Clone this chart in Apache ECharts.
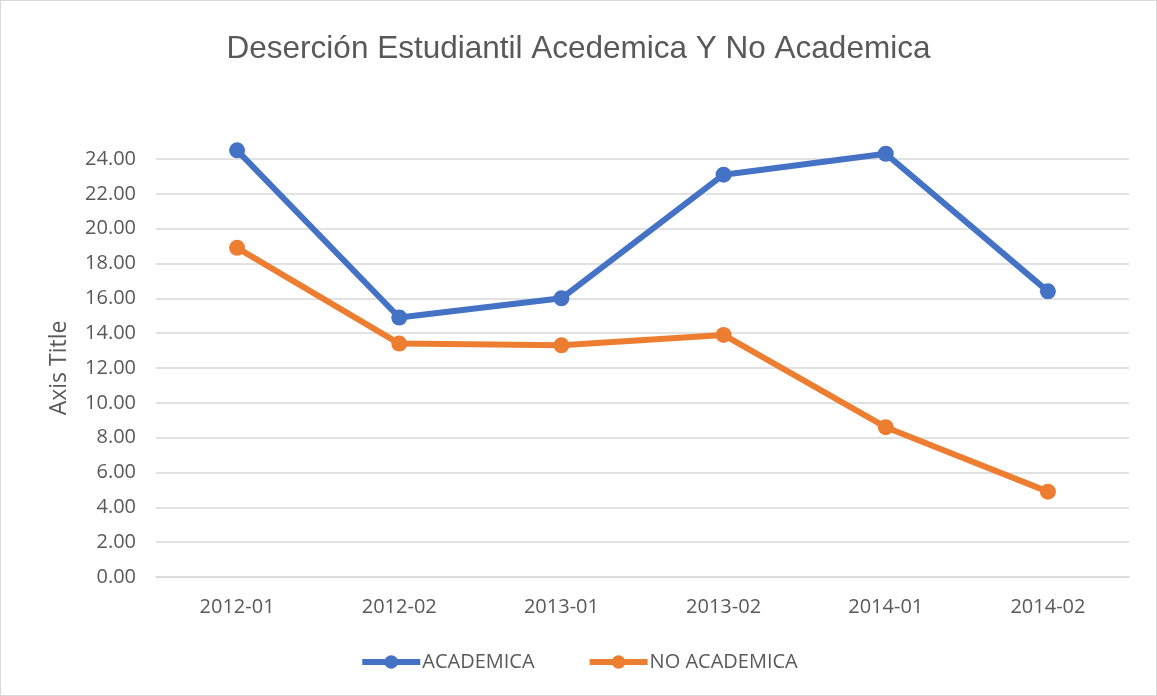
<!DOCTYPE html>
<html>
  <head>
    <meta charset="UTF-8">
    <title>Desercion</title>
    <script src="https://cdn.jsdelivr.net/npm/echarts@6/dist/echarts.min.js"></script>
    <style>
      html, body { margin: 0; padding: 0; background: #fff; }
      #myChart { width: 1155px; height: 694px; border: 1px solid #d9d9d9; }
    </style>
  </head>
  <body>
    <div id="myChart"></div>
    <script type="text/javascript">
    var periods = ['2012-01', '2012-02', '2013-01', '2013-02', '2014-01', '2014-02'];
    var academica = [24.5, 14.9, 16.0, 23.1, 24.3, 16.4];
    var noAcademica = [18.9, 13.4, 13.3, 13.9, 8.6, 4.9];

    var myChart = echarts.init(document.getElementById('myChart'));
    var labelFont = 'Open Sans, Lato, sans-serif';

    var option = {
      animation: false,
      title: {
        text: 'Deserción Estudiantil Acedemica Y No Academica',
        left: 'center',
        top: 27,
        textStyle: {
          fontFamily: 'Liberation Sans, sans-serif',
          fontSize: 31.5,
          fontWeight: 'normal',
          color: '#595959'
        }
      },
      legend: {
        bottom: 18,
        left: 'center',
        itemWidth: 58,
        itemHeight: 17,
        itemGap: 52,
        lineStyle: { width: 6 },
        textStyle: { fontFamily: labelFont, fontSize: 20, color: '#595959', padding: [0, 0, 0, -3] },
        data: ['ACADEMICA', 'NO ACADEMICA']
      },
      grid: { left: 155, right: 27, top: 158, bottom: 118, containLabel: false },
      xAxis: {
        type: 'category',
        data: periods,
        axisLine: { lineStyle: { color: '#d9d9d9', width: 1.5 } },
        axisTick: { show: false },
        axisLabel: { fontFamily: labelFont, fontSize: 20, color: '#595959', margin: 20 }
      },
      yAxis: {
        type: 'value',
        min: 0,
        max: 24,
        interval: 2,
        name: 'Axis Title',
        nameLocation: 'middle',
        nameGap: 85,
        nameTextStyle: { fontFamily: labelFont, fontSize: 23, color: '#595959' },
        axisLine: { show: false },
        axisTick: { show: false },
        axisLabel: {
          fontFamily: labelFont, fontSize: 20, color: '#595959', margin: 20,
          formatter: function (v) { return v.toFixed(2); }
        },
        splitLine: { lineStyle: { color: '#d9d9d9', width: 1.5 } }
      },
      series: [{
        name: 'ACADEMICA',
        type: 'line',
        data: academica,
        clip: false,
        symbol: 'circle',
        symbolSize: 16,
        lineStyle: { width: 6, color: '#4472c4' },
        itemStyle: { color: '#4472c4' }
      }, {
        name: 'NO ACADEMICA',
        type: 'line',
        data: noAcademica,
        clip: false,
        symbol: 'circle',
        symbolSize: 16,
        lineStyle: { width: 6, color: '#ed7d31' },
        itemStyle: { color: '#ed7d31' }
      }]
    };
    myChart.setOption(option);
    </script>
  </body>
</html>
